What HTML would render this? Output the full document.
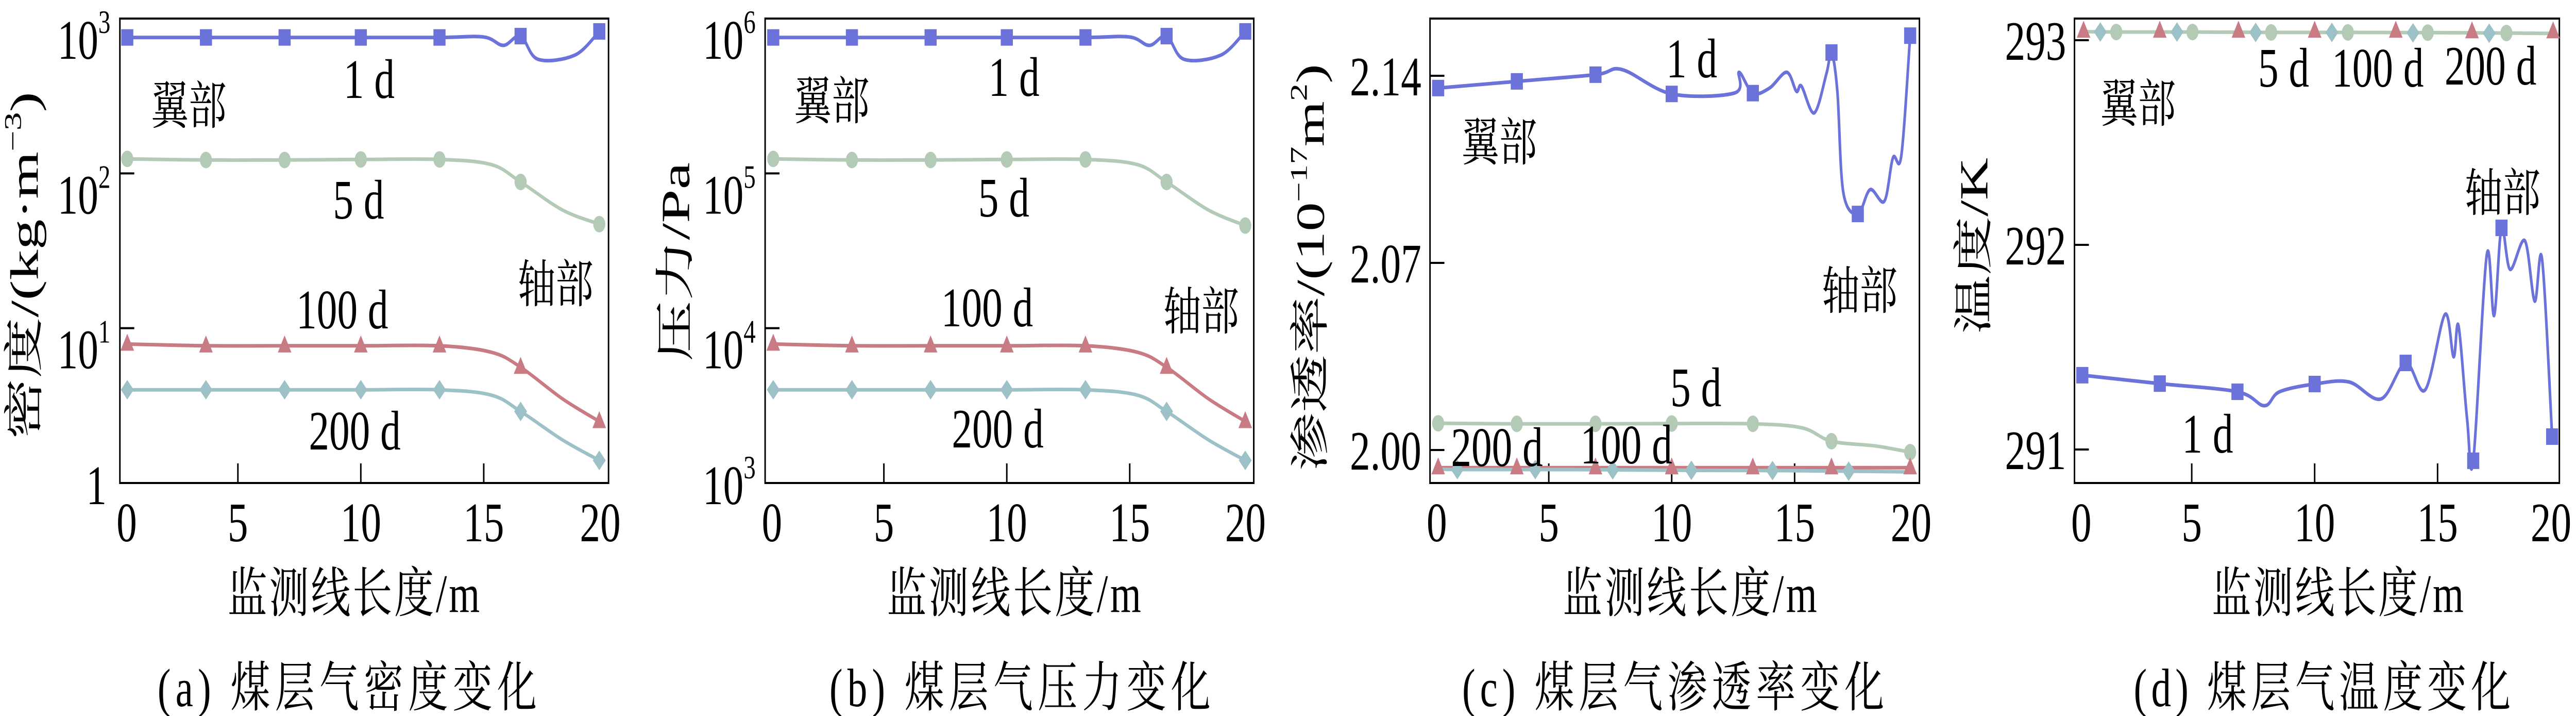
<!DOCTYPE html>
<html><head><meta charset="utf-8">
<style>
html,body{margin:0;padding:0;background:#fff;overflow:hidden;width:100vw;height:100vh;}
svg{display:block;overflow:hidden;width:100vw;height:100vh;}
text{font-family:"Liberation Serif","Noto Serif CJK SC",serif;fill:#000;}
</style></head>
<body>
<svg id="fig" viewBox="0 0 6811 1389" preserveAspectRatio="none" xmlns="http://www.w3.org/2000/svg"></svg>
<script>
// ---------- shared ----------
const xTicks = [0, 5, 10, 15, 20];
const xTickLabels = ["0", "5", "10", "15", "20"];
const seriesNames = ["1d", "5d", "100d", "200d"];

// ---------- panel a: density (kg/m3, log) ----------
const aYTicks = [1, 10, 100, 1000];
const aYTickLabels = [["1",""], ["10","1"], ["10","2"], ["10","3"]];
const aMarkX = [0.5, 3.7, 6.9, 10.0, 13.2, 16.5, 19.7];
const a1dMarkY = [755, 755, 755, 755, 755, 770, 826];
const a1dLineX = [0.5, 3.7, 6.9, 10.0, 13.2, 15.0, 15.8, 16.5, 17.2, 18.7, 19.7];
const a1dLineY = [755, 755, 755, 755, 755, 760, 671, 770, 546, 580, 826];
const a5dMarkY = [124, 122, 122, 123, 123, 88, 47];
const a5dLineX = [0.5, 3.7, 6.9, 10.0, 13.2, 15.3, 16.5, 18.2, 19.7];
const a5dLineY = [124, 122, 122, 123, 123, 114, 88, 58, 47];
const a100dMarkY = [7.9, 7.7, 7.7, 7.7, 7.7, 5.6, 2.5];
const a100dLineX = [0.5, 3.7, 6.9, 10.0, 13.2, 15.3, 16.5, 18.2, 19.7];
const a100dLineY = [7.9, 7.7, 7.7, 7.7, 7.7, 7.0, 5.6, 3.5, 2.5];
const a200dMarkY = [4.0, 4.0, 4.0, 4.0, 4.0, 2.9, 1.4];
const a200dLineX = [0.5, 3.7, 6.9, 10.0, 13.2, 15.3, 16.5, 18.2, 19.7];
const a200dLineY = [4.0, 4.0, 4.0, 4.0, 4.0, 3.7, 2.9, 1.9, 1.4];

// ---------- panel b: pressure (Pa, log) ----------
const bYTicks = [1000, 10000, 100000, 1000000];
const bYTickLabels = [["10","3"], ["10","4"], ["10","5"], ["10","6"]];
const bMarkX = [0.5, 3.7, 6.9, 10.0, 13.2, 16.5, 19.7];
const b1dMarkY = [755000, 755000, 755000, 755000, 755000, 770000, 826000];
const b1dLineX = [0.5, 3.7, 6.9, 10.0, 13.2, 15.0, 15.8, 16.5, 17.2, 18.7, 19.7];
const b1dLineY = [755000, 755000, 755000, 755000, 755000, 760000, 671000, 770000, 546000, 580000, 826000];
const b5dMarkY = [124000, 122000, 122000, 123000, 123000, 88000, 46000];
const b5dLineX = [0.5, 3.7, 6.9, 10.0, 13.2, 15.3, 16.5, 18.2, 19.7];
const b5dLineY = [124000, 122000, 122000, 123000, 123000, 114000, 88000, 58000, 46000];
const b100dMarkY = [7900, 7700, 7700, 7700, 7700, 5600, 2500];
const b100dLineX = [0.5, 3.7, 6.9, 10.0, 13.2, 15.3, 16.5, 18.2, 19.7];
const b100dLineY = [7900, 7700, 7700, 7700, 7700, 7000, 5600, 3500, 2500];
const b200dMarkY = [4000, 4000, 4000, 4000, 4000, 2900, 1400];
const b200dLineX = [0.5, 3.7, 6.9, 10.0, 13.2, 15.3, 16.5, 18.2, 19.7];
const b200dLineY = [4000, 4000, 4000, 4000, 4000, 3700, 2900, 1900, 1400];

// ---------- panel c: permeability (1e-17 m2) ----------
const cYTicks = [2.00, 2.07, 2.14];
const cYTickLabels = ["2.00", "2.07", "2.14"];
const c1dMarkX = [0.5, 3.7, 6.9, 10.0, 13.3, 16.5, 17.57, 19.7];
const c1dMarkY = [2.1354, 2.1379, 2.1404, 2.1332, 2.1335, 2.1487, 2.0883, 2.1550];
const c1dLineX = [0.5, 3.7, 6.9, 7.98, 10.0, 12.57, 12.74, 13.3, 13.98, 14.68, 15.07, 15.28, 15.8, 16.3, 16.5, 16.74, 16.98, 17.57, 18.07, 18.65, 19.0, 19.34, 19.7];
const c1dLineY = [2.1354, 2.1379, 2.1404, 2.1423, 2.1332, 2.1336, 2.1413, 2.1335, 2.1354, 2.1413, 2.1342, 2.1361, 2.1261, 2.1410, 2.1487, 2.1340, 2.0964, 2.0883, 2.0974, 2.0931, 2.1093, 2.1101, 2.1550];
const c5dMarkX = [0.5, 3.7, 6.9, 10.0, 13.3, 16.5, 19.7];
const c5dMarkY = [2.0100, 2.0098, 2.0098, 2.0099, 2.0098, 2.0033, 1.9992];
const c5dLineX = [0.5, 3.7, 6.9, 10.0, 13.3, 15.3, 16.5, 18.3, 19.7];
const c5dLineY = [2.0100, 2.0098, 2.0098, 2.0099, 2.0098, 2.0083, 2.0033, 2.0015, 1.9992];
const c100dMarkX = [0.5, 3.7, 6.9, 10.0, 13.3, 16.5, 19.7];
const c100dMarkY = [1.9934, 1.9934, 1.9934, 1.9934, 1.9934, 1.9934, 1.9934];
const c200dMarkX = [1.28, 4.45, 7.6, 10.8, 14.1, 17.2];
const c200dMarkY = [1.9927, 1.9927, 1.9926, 1.9924, 1.9923, 1.9921];
const c200dLineX = [0.5, 1.28, 4.45, 7.6, 10.8, 14.1, 17.2, 19.7];
const c200dLineY = [1.9929, 1.9927, 1.9927, 1.9926, 1.9924, 1.9923, 1.9921, 1.9918];

// ---------- panel d: temperature (K) ----------
const dYTicks = [291, 292, 293];
const dYTickLabels = ["291", "292", "293"];
const d1dMarkX = [0.55, 3.7, 6.86, 10.0, 13.7, 16.45, 17.6, 19.66];
const d1dMarkY = [291.363, 291.322, 291.282, 291.320, 291.423, 290.945, 292.083, 291.063];
const d1dLineX = [0.55, 3.7, 6.86, 7.95, 8.57, 10.0, 11.4, 12.7, 13.7, 14.5, 15.3, 15.65, 15.85, 16.2, 16.45, 17.0, 17.3, 17.6, 17.95, 18.55, 18.95, 19.25, 19.66];
const d1dLineY = [291.363, 291.322, 291.282, 291.214, 291.282, 291.320, 291.330, 291.247, 291.423, 291.292, 291.660, 291.453, 291.605, 291.150, 290.945, 291.950, 291.655, 292.083, 291.880, 292.020, 291.725, 291.930, 291.063];
const d100dMarkX = [0.6, 3.7, 6.9, 10.0, 13.3, 16.4, 19.7];
const d100dMarkY = [293.045, 293.045, 293.045, 293.045, 293.045, 293.042, 293.042];
const d200dMarkX = [1.28, 4.4, 7.6, 10.7, 14.0, 17.1];
const d200dMarkY = [293.040, 293.040, 293.038, 293.038, 293.036, 293.034];
const d5dMarkX = [1.93, 5.03, 8.23, 11.35, 14.6, 17.8];
const d5dMarkY = [293.040, 293.040, 293.038, 293.038, 293.037, 293.035];
const d5dLineX = [0.6, 1.93, 5.03, 8.23, 11.35, 14.6, 17.8, 19.7];
const d5dLineY = [293.042, 293.040, 293.040, 293.038, 293.038, 293.037, 293.035, 293.033];

// ---------- drawing ----------
const NS = "http://www.w3.org/2000/svg";
const svg = document.getElementById("fig");
const COL = {"1d":"#6b72d9","5d":"#b3cbb6","100d":"#c97b84","200d":"#9cc1c6"};
const TOP = 36, BOT = 937;

function mk(tag, attrs, parent) {
  const e = document.createElementNS(NS, tag);
  for (const k in attrs) e.setAttribute(k, attrs[k]);
  (parent || svg).appendChild(e);
  return e;
}
function makeX(x0) { return v => x0 + 65 * v; }
function makeLogY(lo, hi) { return v => BOT - (Math.log10(v) - Math.log10(lo)) / (Math.log10(hi) - Math.log10(lo)) * (BOT - TOP); }
function makeLinY(v0, p0, ppu) { return v => p0 - (v - v0) * ppu; }

function smoothPath(pts) {
  let d = "M" + pts[0][0].toFixed(1) + "," + pts[0][1].toFixed(1);
  for (let i = 0; i < pts.length - 1; i++) {
    const p0 = pts[i - 1] || pts[i], p1 = pts[i], p2 = pts[i + 1], p3 = pts[i + 2] || p2;
    const c1x = p1[0] + (p2[0] - p0[0]) / 6, c1y = p1[1] + (p2[1] - p0[1]) / 6;
    const c2x = p2[0] - (p3[0] - p1[0]) / 6, c2y = p2[1] - (p3[1] - p1[1]) / 6;
    d += " C" + c1x.toFixed(1) + "," + c1y.toFixed(1) + " " + c2x.toFixed(1) + "," + c2y.toFixed(1) + " " + p2[0].toFixed(1) + "," + p2[1].toFixed(1);
  }
  return d;
}

function drawLine(g, xs, ys, X, Y, color, name) {
  const pts = xs.map((x, i) => [X(x), Y(ys[i])]);
  const p = mk("path", {d: smoothPath(pts), fill: "none", stroke: color, "stroke-width": 7, "stroke-linejoin": "round"}, g);
  
  
}

function drawMarkers(g, xs, ys, X, Y, color, shape, name) {
  xs.forEach((x, i) => {
    const cx = X(x), cy = Y(ys[i]);
    let e;
    if (shape === "square") e = mk("rect", {x: cx - 16, y: cy - 16, width: 32, height: 32, fill: color}, g);
    else if (shape === "circle") e = mk("circle", {cx: cx, cy: cy, r: 16, fill: color}, g);
    else if (shape === "triangle") e = mk("polygon", {points: `${cx},${cy - 20} ${cx - 18},${cy + 13} ${cx + 18},${cy + 13}`, fill: color}, g);
    else e = mk("polygon", {points: `${cx},${cy - 19} ${cx + 17},${cy} ${cx},${cy + 19} ${cx - 17},${cy}`, fill: color}, g);
    
    
  });
}

function text(g, str, x, y, size, anchor, name) {
  const t = mk("text", {x: x, y: y, "font-size": size, "text-anchor": anchor || "middle"}, g);
  t.textContent = str;
  
  
  return t;
}

function frame(g, left, right, X, yTickPx, prefix) {
  const f = mk("rect", {x: left, y: TOP, width: right - left, height: BOT - TOP, fill: "none", stroke: "#000", "stroke-width": 4}, g);
  
  
  xTicks.forEach((v, i) => {
    const px = X(v);
    if (v > 0 && v < 20) {
      const t = mk("line", {x1: px, x2: px, y1: BOT, y2: BOT - 38, stroke: "#000", "stroke-width": 4}, g);
      
      
    }
    let lx = Math.max(px, left + 18);
    lx = Math.min(lx, right - 22);
    text(g, xTickLabels[i], lx, 1050, 108, "middle", prefix + "-x-tick-label");
  });
  yTickPx.forEach(py => {
    if (py > TOP + 5 && py < BOT - 5) {
      const t = mk("line", {x1: left, x2: left + 38, y1: py, y2: py, stroke: "#000", "stroke-width": 4}, g);
      
      
    }
  });
}

function logTickLabels(g, ticks, labels, Y, right, prefix) {
  ticks.forEach((v, i) => {
    const py = Y(v);
    const base = Math.min(py + 78, 978);
    const t = mk("text", {x: right, y: base, "font-size": 108, "text-anchor": "end"}, g);
    
    
    const s1 = mk("tspan", {}, t); s1.textContent = labels[i][0];
    if (labels[i][1]) {
      const s2 = mk("tspan", {dy: -50, "font-size": 64}, t); s2.textContent = labels[i][1];
    } else {
      t.setAttribute("x", right - 10);
    }
  });
}

function rotTitle(g, x, cy, len, build, name) {
  const t = mk("text", {x: 0, y: 0, "font-size": 105, "text-anchor": "middle", transform: `translate(${x},${cy}) rotate(-90)`, textLength: len, lengthAdjust: "spacingAndGlyphs"}, g);
  
  
  build(t);
  return t;
}

function panel(prefix) {
  const g = mk("g", {});
  
  
  return g;
}

// ===== Panel a =====
(function () {
  const g = panel("panel-a-density");
  const X = makeX(304), Y = makeLogY(1, 1000);
  frame(g, 317, 1609, X, aYTicks.map(Y), "a");
  logTickLabels(g, aYTicks, aYTickLabels, Y, 292, "a");
  drawLine(g, a1dLineX, a1dLineY, X, Y, COL["1d"], "a-series-1d");
  drawLine(g, a5dLineX, a5dLineY, X, Y, COL["5d"], "a-series-5d");
  drawLine(g, a100dLineX, a100dLineY, X, Y, COL["100d"], "a-series-100d");
  drawLine(g, a200dLineX, a200dLineY, X, Y, COL["200d"], "a-series-200d");
  drawMarkers(g, aMarkX, a1dMarkY, X, Y, COL["1d"], "square", "a-1d");
  drawMarkers(g, aMarkX, a5dMarkY, X, Y, COL["5d"], "circle", "a-5d");
  drawMarkers(g, aMarkX, a100dMarkY, X, Y, COL["100d"], "triangle", "a-100d");
  drawMarkers(g, aMarkX, a200dMarkY, X, Y, COL["200d"], "diamond", "a-200d");
  text(g, "1 d", 976, 190, 108, "middle", "a-label-1d");
  text(g, "翼部", 499, 240, 100, "middle", "a-label-wing");
  text(g, "5 d", 948, 424, 108, "middle", "a-label-5d");
  text(g, "轴部", 1469, 586, 100, "middle", "a-label-axis");
  text(g, "100 d", 905, 637, 108, "middle", "a-label-100d");
  text(g, "200 d", 938, 872, 108, "middle", "a-label-200d");
  rotTitle(g, 100, 515, 674, t => {
    const a = mk("tspan", {}, t); a.textContent = "密度/(kg·m";
    const b = mk("tspan", {dy: -45, "font-size": 64}, t); b.textContent = "−3";
    const c = mk("tspan", {dy: 45}, t); c.textContent = ")";
  }, "a-y-axis-title");
  const xt = text(g, "监测线长度/m", 935, 1187, 105, "middle", "a-x-axis-title");
  xt.setAttribute("textLength", 667);
  const cap = text(g, "(a)  煤层气密度变化", 918, 1370, 105, "middle", "a-caption");
  cap.setAttribute("textLength", 1003);
})();

// ===== Panel b =====
(function () {
  const g = panel("panel-b-pressure");
  const X = makeX(2012), Y = makeLogY(1000, 1000000);
  frame(g, 2023, 3315, X, bYTicks.map(Y), "b");
  logTickLabels(g, bYTicks, bYTickLabels, Y, 1998, "b");
  drawLine(g, b1dLineX, b1dLineY, X, Y, COL["1d"], "b-series-1d");
  drawLine(g, b5dLineX, b5dLineY, X, Y, COL["5d"], "b-series-5d");
  drawLine(g, b100dLineX, b100dLineY, X, Y, COL["100d"], "b-series-100d");
  drawLine(g, b200dLineX, b200dLineY, X, Y, COL["200d"], "b-series-200d");
  drawMarkers(g, bMarkX, b1dMarkY, X, Y, COL["1d"], "square", "b-1d");
  drawMarkers(g, bMarkX, b5dMarkY, X, Y, COL["5d"], "circle", "b-5d");
  drawMarkers(g, bMarkX, b100dMarkY, X, Y, COL["100d"], "triangle", "b-100d");
  drawMarkers(g, bMarkX, b200dMarkY, X, Y, COL["200d"], "diamond", "b-200d");
  text(g, "1 d", 2681, 186, 108, "middle", "b-label-1d");
  text(g, "翼部", 2199, 231, 100, "middle", "b-label-wing");
  text(g, "5 d", 2654, 420, 108, "middle", "b-label-5d");
  text(g, "100 d", 2610, 633, 108, "middle", "b-label-100d");
  text(g, "轴部", 3176, 639, 100, "middle", "b-label-axis");
  text(g, "200 d", 2638, 868, 108, "middle", "b-label-200d");
  rotTitle(g, 1822, 508, 386, t => { t.textContent = "压力/Pa"; }, "b-y-axis-title");
  const xt = text(g, "监测线长度/m", 2681, 1187, 105, "middle", "b-x-axis-title");
  xt.setAttribute("textLength", 672);
  const cap = text(g, "(b)  煤层气压力变化", 2697, 1370, 105, "middle", "b-caption");
  cap.setAttribute("textLength", 1008);
})();

// ===== Panel c =====
(function () {
  const g = panel("panel-c-permeability");
  const X = makeX(3770), Y = makeLinY(2.00, 873, 5186);
  frame(g, 3781, 5075, X, cYTicks.map(Y), "c");
  cYTicks.forEach((v, i) => {
    text(g, cYTickLabels[i], 3758, Y(v) + 38, 108, "end", "c-y-tick-label");
  });
  drawLine(g, c1dLineX, c1dLineY, X, Y, COL["1d"], "c-series-1d");
  drawLine(g, c5dLineX, c5dLineY, X, Y, COL["5d"], "c-series-5d");
  drawLine(g, c100dMarkX, c100dMarkY, X, Y, COL["100d"], "c-series-100d");
  drawLine(g, c200dLineX, c200dLineY, X, Y, COL["200d"], "c-series-200d");
  drawMarkers(g, c1dMarkX, c1dMarkY, X, Y, COL["1d"], "square", "c-1d");
  drawMarkers(g, c5dMarkX, c5dMarkY, X, Y, COL["5d"], "circle", "c-5d");
  drawMarkers(g, c100dMarkX, c100dMarkY, X, Y, COL["100d"], "triangle", "c-100d");
  drawMarkers(g, c200dMarkX, c200dMarkY, X, Y, COL["200d"], "diamond", "c-200d");
  text(g, "1 d", 4473, 150, 108, "middle", "c-label-1d");
  text(g, "翼部", 3964, 311, 100, "middle", "c-label-wing");
  text(g, "轴部", 4917, 599, 100, "middle", "c-label-axis");
  text(g, "5 d", 4484, 788, 108, "middle", "c-label-5d");
  text(g, "200 d", 3958, 904, 108, "middle", "c-label-200d");
  text(g, "100 d", 4300, 899, 108, "middle", "c-label-100d");
  rotTitle(g, 3500, 519, 790, t => {
    const a = mk("tspan", {}, t); a.textContent = "渗透率/(10";
    const b = mk("tspan", {dy: -45, "font-size": 64}, t); b.textContent = "−17";
    const c = mk("tspan", {dy: 45}, t); c.textContent = "m";
    const d = mk("tspan", {dy: -45, "font-size": 64}, t); d.textContent = "2";
    const e = mk("tspan", {dy: 45}, t); e.textContent = ")";
  }, "c-y-axis-title");
  const xt = text(g, "监测线长度/m", 4468, 1187, 105, "middle", "c-x-axis-title");
  xt.setAttribute("textLength", 672);
  const cap = text(g, "(c)  煤层气渗透率变化", 4424, 1370, 105, "middle", "c-caption");
  cap.setAttribute("textLength", 1116);
})();

// ===== Panel d =====
(function () {
  const g = panel("panel-d-temperature");
  const X = makeX(5470), Y = makeLinY(291, 872, 397);
  frame(g, 5485, 6767, X, dYTicks.map(Y), "d");
  dYTicks.forEach((v, i) => {
    text(g, dYTickLabels[i], 5463, Y(v) + 38, 108, "end", "d-y-tick-label");
  });
  drawLine(g, d5dLineX, d5dLineY, X, Y, COL["5d"], "d-series-5d");
  drawLine(g, d1dLineX, d1dLineY, X, Y, COL["1d"], "d-series-1d");
  drawMarkers(g, d1dMarkX, d1dMarkY, X, Y, COL["1d"], "square", "d-1d");
  drawMarkers(g, d5dMarkX, d5dMarkY, X, Y, COL["5d"], "circle", "d-5d");
  drawMarkers(g, d200dMarkX, d200dMarkY, X, Y, COL["200d"], "diamond", "d-200d");
  drawMarkers(g, d100dMarkX, d100dMarkY, X, Y, COL["100d"], "triangle", "d-100d");
  text(g, "翼部", 5653, 236, 100, "middle", "d-label-wing");
  text(g, "5 d", 6038, 168, 108, "middle", "d-label-5d");
  text(g, "100 d", 6287, 168, 108, "middle", "d-label-100d");
  text(g, "200 d", 6585, 164, 108, "middle", "d-label-200d");
  text(g, "轴部", 6617, 409, 100, "middle", "d-label-axis");
  text(g, "1 d", 5837, 878, 108, "middle", "d-label-1d");
  rotTitle(g, 5255, 477, 342, t => { t.textContent = "温度/K"; }, "d-y-axis-title");
  const xt = text(g, "监测线长度/m", 6181, 1187, 105, "middle", "d-x-axis-title");
  xt.setAttribute("textLength", 666);
  const cap = text(g, "(d)  煤层气温度变化", 6140, 1370, 105, "middle", "d-caption");
  cap.setAttribute("textLength", 997);
})();
</script>
</body></html>
